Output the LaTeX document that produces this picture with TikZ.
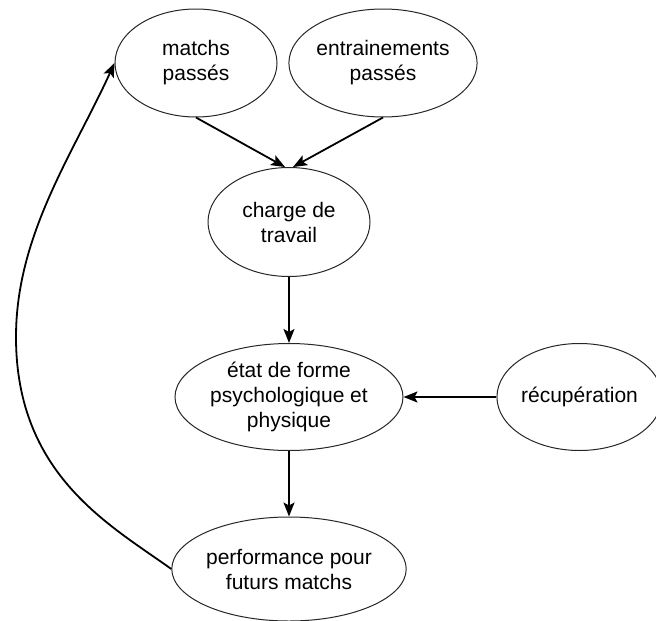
\documentclass[tikz,border=0pt]{standalone}
\usepackage{fontspec}
\setmainfont{Liberation Sans}
\usetikzlibrary{shapes.geometric,arrows.meta}
\begin{document}
\begin{tikzpicture}[x=1pt,y=-1pt,
  ell/.style={draw=black!85, line width=1pt, ellipse, inner sep=0pt, align=center,
    font=\fontsize{21}{25}\selectfont},
  arr/.style={line width=1.8pt, -{Stealth[length=14pt,width=11pt,inset=3pt]}}]
\useasboundingbox (0,0) rectangle (656,621);
\node[ell, minimum width=162pt, minimum height=108pt] (m) at (196,63) {matchs\\passés};
\node[ell, minimum width=161pt, minimum height=108pt] (e) at (383,63) {entrainements\\passés};
\node[ell, minimum width=162pt, minimum height=109pt] (c) at (289,222) {charge de\\travail};
\node[ell, minimum width=228pt, minimum height=107pt] (f) at (289,397) {état de forme\\psychologique et\\physique};
\node[ell, minimum width=151pt, minimum height=107pt] (r) at (579.5,397) {récupération};
\node[ell, minimum width=188pt, minimum height=104pt] (p) at (289,569) {performance pour\\futurs matchs};
\coordinate (w) at (16,337);
\draw[arr] (m.south) -- ([xshift=-4pt]c.north);
\draw[arr] (e.south) -- ([xshift=4pt]c.north);
\draw[arr] (c.south) -- (f.north);
\draw[arr] (r.west) -- (f.east);
\draw[arr] (f.south) -- (p.north);
\draw[arr] (p.west) .. controls (110,525) and (16,475) .. (w)
  .. controls (16,235) and (73,154) .. (m.west);
\end{tikzpicture}
\end{document}
